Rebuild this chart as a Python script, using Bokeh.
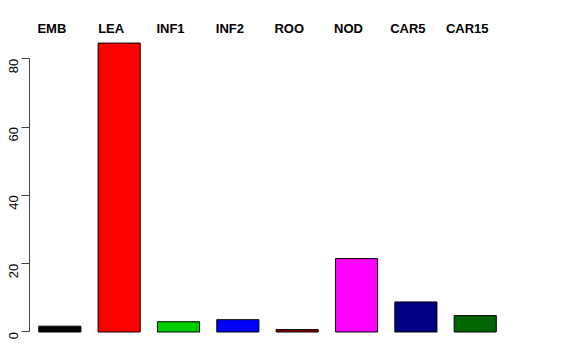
from bokeh.plotting import figure
from bokeh.models import Range1d, LinearAxis, FixedTicker, ColumnDataSource
from bokeh.embed import file_html
from bokeh.resources import INLINE
from bokeh.core.properties import value
import math

categories = ["EMB", "LEA", "INF1", "INF2", "ROO", "NOD", "CAR5", "CAR15"]
values = [1.7, 84.6, 3.0, 3.6, 0.7, 21.5, 8.8, 4.8]
colors = ["#000000", "#FF0000", "#00CD00", "#0000FF", "#8B0000", "#FF00FF", "#000080", "#006400"]
y_ticks = [0, 20, 40, 60, 80]

pos = list(range(len(categories)))
src = ColumnDataSource(dict(x=pos, top=values, color=colors, label=categories,
                            ly=[88.8] * len(categories)))

p = figure(width=576, height=360, output_backend="svg", toolbar_location=None,
           x_range=Range1d(-0.511, 8.1), y_range=Range1d(-3.37, 91.21),
           frame_width=511, frame_height=323, min_border_left=29, min_border_top=20,
           min_border_right=36, min_border_bottom=17, y_axis_location=None)
p.outline_line_color = None
p.xgrid.visible = False
p.ygrid.visible = False
p.xaxis.visible = False
p.background_fill_color = "white"
p.border_fill_color = "white"

p.vbar(x="x", top="top", bottom=0, width=0.71, fill_color="color", line_color="black",
       line_width=1, source=src)

p.text(x="x", y="ly", text="label", source=src, x_offset=-8,
       text_font=value("Liberation Sans"), text_font_style="bold", text_font_size="13px",
       text_align="center", text_baseline="middle", text_color="black")

ax = LinearAxis(ticker=FixedTicker(ticks=y_ticks), bounds=(0, 80))
ax.axis_line_color = "#444444"
ax.major_tick_line_color = "#444444"
ax.major_tick_out = 8
ax.major_tick_in = 0
ax.minor_tick_line_color = None
ax.major_label_orientation = math.pi / 2
ax.major_label_text_font = "Liberation Sans"
ax.major_label_text_font_size = "13px"
ax.major_label_text_color = "black"
ax.major_label_standoff = 8
p.add_layout(ax, "left")

open("out.html", "w").write(file_html(p, INLINE))
